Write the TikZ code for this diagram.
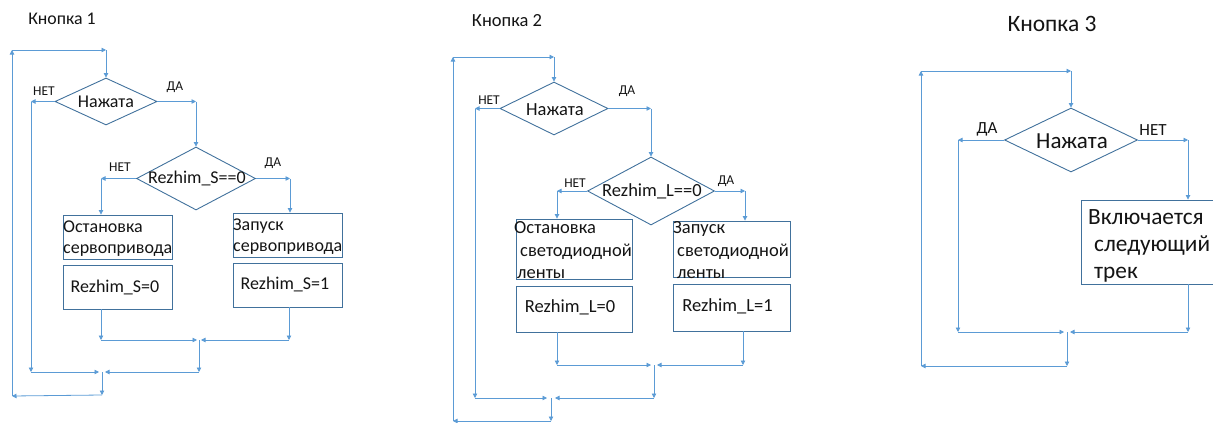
\documentclass[tikz,border=0pt]{standalone}
\usepackage{fontspec}
\setmainfont{Carlito}
\usetikzlibrary{arrows.meta,shapes.geometric}
\definecolor{lblue}{RGB}{91,155,213}
\definecolor{bblue}{RGB}{65,113,156}
\definecolor{tcol}{RGB}{20,20,20}
\newcommand{\fsz}[2]{\fontsize{#1}{#2}\selectfont}
\tikzset{
  ln/.style={draw=lblue, line width=0.8pt},
  arr/.style={ln, -{Triangle[length=4.5pt,width=4.5pt]}},
  dia/.style={diamond, draw=bblue, line width=0.9pt, inner sep=0pt},
  box/.style={rectangle, draw=bblue, line width=0.9pt, inner sep=0pt},
  txt/.style={inner sep=0pt, text=tcol},
  lab/.style={txt, font=\fsz{13.5}{15}},
}
\begin{document}
\begin{tikzpicture}[x=1pt,y=-1pt]
\useasboundingbox (0,0) rectangle (1213,423);
% ================= Кнопка 1 =================
\node[txt, font=\fsz{17.8}{21}] (t1) at (62,19) {Кнопка 1};
\node[dia, minimum width=102pt, minimum height=47pt] (a1) at (106,101.5) {};
\node[txt, font=\fsz{18}{21}] (a1t) at (106,102) {Нажата};
\node[dia, minimum width=119pt, minimum height=63pt] (a2) at (196,178.5) {};
\node[txt, font=\fsz{18}{21}] (a2t) at (197,178) {Rezhim\_S==0};
\node[box, minimum width=109pt, minimum height=44pt] (aL1) at (117.5,237) {};
\node[txt, font=\fsz{18}{21}, align=left, anchor=west] (aL1t) at (63,238.5) {Остановка\\сервопривода};
\node[box, minimum width=109pt, minimum height=44pt] (aL2) at (117.5,287) {};
\node[txt, font=\fsz{18}{21}] (aL2t) at (115,287) {Rezhim\_S=0};
\node[box, minimum width=109pt, minimum height=44pt] (aR1) at (287.5,235) {};
\node[txt, font=\fsz{18}{21}, align=left, anchor=west] (aR1t) at (233,236.5) {Запуск\\сервопривода};
\node[box, minimum width=109pt, minimum height=44pt] (aR2) at (287.5,285) {};
\node[txt, font=\fsz{18}{21}] (aR2t) at (285,284) {Rezhim\_S=1};
\node[lab] (a1n) at (44,91) {НЕТ};
\node[lab] (a1y) at (175,87) {ДА};
\node[lab] (a2n) at (120,167) {НЕТ};
\node[lab] (a2y) at (273,163) {ДА};
% corners
\coordinate (p1) at (12,396);
\coordinate (p2) at (12,50);
\coordinate (p3) at (106,50);
\coordinate (p4) at (31,101.5);
\coordinate (p5) at (31,372);
\coordinate (p6) at (99,372);
\coordinate (p7) at (196,101.5);
\coordinate (p8) at (101,178.5);
\coordinate (p9) at (290,178.5);
\coordinate (p10) at (101,340);
\coordinate (p11) at (197,340);
\coordinate (p12) at (289,340);
\coordinate (p13) at (201,340);
\coordinate (p14) at (199,340);
\coordinate (p15) at (199,372);
\coordinate (p16) at (105,372);
\coordinate (p17) at (102,372);
\coordinate (p18) at (102,395);
\draw[arr] (p1) -- (p2);
\draw[arr] (p2) -- (p3);
\draw[arr] (p3) -- (a1.north);
\draw[arr] (a1.west) -- (p4);
\draw[arr] (p4) -- (p5);
\draw[arr] (p5) -- (p6);
\draw[arr] (a1.east) -- (p7);
\draw[arr] (p7) -- (a2.north);
\draw[arr] (a2.west) -- (p8);
\draw[arr] (p8) -- (p8 |- aL1.north);
\draw[arr] (a2.east) -- (p9);
\draw[arr] (p9) -- (p9 |- aR1.north);
\draw[arr] (p10 |- aL2.south) -- (p10);
\draw[arr] (p10) -- (p11);
\draw[arr] (p12 |- aR2.south) -- (p12);
\draw[arr] (p12) -- (p13);
\draw[arr] (p14) -- (p15);
\draw[arr] (p15) -- (p16);
\draw[arr] (p17) -- (p18);
\draw[arr] (p18) -- (p1);
% ================= Кнопка 2 =================
\node[txt, font=\fsz{18.5}{22}] (t2) at (507,21) {Кнопка 2};
\node[dia, minimum width=108pt, minimum height=53pt] (b1) at (554,108.5) {};
\node[txt, font=\fsz{18.5}{22}] (b1t) at (555,110) {Нажата};
\node[dia, minimum width=127pt, minimum height=68pt] (b2) at (651,191) {};
\node[txt, font=\fsz{18.5}{22}] (b2t) at (652,191) {Rezhim\_L==0};
\node[box, minimum width=116pt, minimum height=60pt] (bL1) at (574,249) {};
\node[txt, font=\fsz{18.5}{22.5}, align=left, anchor=west] (bL1t) at (514,250.5) {Остановка\\\hspace*{6pt}светодиодной\\\hspace*{3pt}ленты};
\node[box, minimum width=116pt, minimum height=46pt] (bL2) at (574,309) {};
\node[txt, font=\fsz{18.5}{22}] (bL2t) at (570,307) {Rezhim\_L=0};
\node[box, minimum width=117pt, minimum height=56pt] (bR1) at (731.5,249) {};
\node[txt, font=\fsz{18.5}{22.5}, align=left, anchor=west] (bR1t) at (673,250.5) {Запуск\\\hspace*{4pt}светодиодной\\\hspace*{4pt}ленты};
\node[box, minimum width=117pt, minimum height=47pt] (bR2) at (731.5,307.5) {};
\node[txt, font=\fsz{18.5}{22}] (bR2t) at (727.5,306) {Rezhim\_L=1};
\node[lab] (b1n) at (489,100) {НЕТ};
\node[lab] (b1y) at (627,91) {ДА};
\node[lab] (b2n) at (575,183) {НЕТ};
\node[lab] (b2y) at (726,181) {ДА};
\coordinate (q1) at (453,421);
\coordinate (q2) at (453,57);
\coordinate (q3) at (554,57);
\coordinate (q4) at (475,108.5);
\coordinate (q5) at (475,398);
\coordinate (q6) at (547,398);
\coordinate (q7) at (651,108.5);
\coordinate (q8) at (557,191);
\coordinate (q9) at (745,191);
\coordinate (q10) at (557,365);
\coordinate (q11) at (651,365);
\coordinate (q12) at (743,365);
\coordinate (q13) at (657,365);
\coordinate (q14) at (654,365);
\coordinate (q15) at (654,398);
\coordinate (q16) at (555,398);
\coordinate (q17) at (551,398);
\coordinate (q18) at (551,421);
\draw[arr] (q1) -- (q2);
\draw[arr] (q2) -- (q3);
\draw[arr] (q3) -- (b1.north);
\draw[arr] (b1.west) -- (q4);
\draw[arr] (q4) -- (q5);
\draw[arr] (q5) -- (q6);
\draw[arr] (b1.east) -- (q7);
\draw[arr] (q7) -- (b2.north);
\draw[arr] (b2.west) -- (q8);
\draw[arr] (q8) -- (q8 |- bL1.north);
\draw[arr] (b2.east) -- (q9);
\draw[arr] (q9) -- (q9 |- bR1.north);
\draw[arr] (q10 |- bL2.south) -- (q10);
\draw[arr] (q10) -- (q11);
\draw[arr] (q12 |- bR2.south) -- (q12);
\draw[arr] (q12) -- (q13);
\draw[arr] (q14) -- (q15);
\draw[arr] (q15) -- (q16);
\draw[arr] (q17) -- (q18);
\draw[arr] (q18) -- (q1);
% ================= Кнопка 3 =================
\node[txt, font=\fsz{23.5}{27}] (t3) at (1052,24) {Кнопка 3};
\node[dia, minimum width=133pt, minimum height=64pt] (c1) at (1071,140) {};
\node[txt, font=\fsz{23}{27}] (c1t) at (1072,141) {Нажата};
\node[box, minimum width=135pt, minimum height=84pt] (cB) at (1148.5,242) {};
\node[txt, font=\fsz{23.3}{27}, align=left, anchor=west] (cBt) at (1088,246) {Включается\\\hspace*{6pt}следующий\\\hspace*{6pt}трек};
\node[lab, font=\fsz{17}{19}] (c1y) at (987,129) {ДА};
\node[lab, font=\fsz{17}{19}] (c1n) at (1153,130) {НЕТ};
\coordinate (r1) at (921,366);
\coordinate (r2) at (921,71);
\coordinate (r3) at (1071,71);
\coordinate (r4) at (958,140);
\coordinate (r5) at (958,332);
\coordinate (r6) at (1064,332);
\coordinate (r7) at (1188,140);
\coordinate (r8) at (1188,332);
\coordinate (r9) at (1070,332);
\coordinate (r10) at (1067,332);
\coordinate (r11) at (1067,366);
\draw[arr] (r1) -- (r2);
\draw[arr] (r2) -- (r3);
\draw[arr] (r3) -- (c1.north);
\draw[arr] (c1.west) -- (r4);
\draw[arr] (r4) -- (r5);
\draw[arr] (r5) -- (r6);
\draw[arr] (c1.east) -- (r7);
\draw[arr] (r7) -- (r7 |- cB.north);
\draw[arr] (r8 |- cB.south) -- (r8);
\draw[arr] (r8) -- (r9);
\draw[arr] (r10) -- (r11);
\draw[arr] (r11) -- (r1);
\end{tikzpicture}
\end{document}
